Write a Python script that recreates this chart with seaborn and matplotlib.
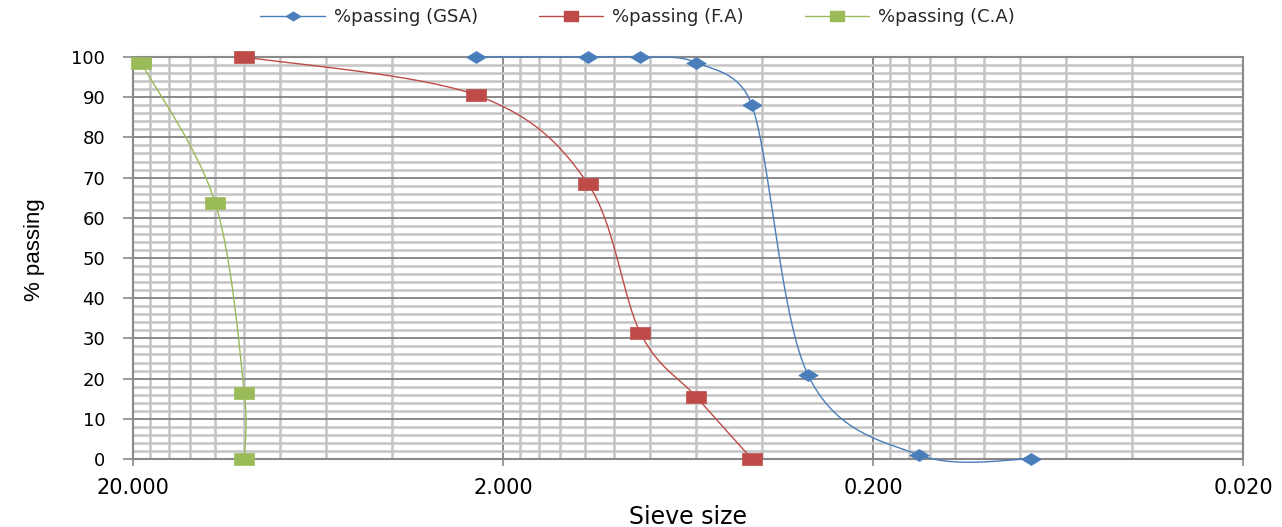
import numpy as np
import pandas as pd
import matplotlib
matplotlib.use("Agg")
import matplotlib.pyplot as plt
from matplotlib.lines import Line2D
from matplotlib.ticker import FixedLocator, FixedFormatter, MultipleLocator
import seaborn as sns

# ---------------- data ----------------
gsa_size = [2.36, 1.18, 0.85, 0.6, 0.425, 0.3, 0.15, 0.075]
gsa_pass = [100.0, 100.0, 100.0, 98.6, 88.0, 21.0, 1.0, 0.0]

fa_size = [10.0, 2.36, 1.18, 0.85, 0.6, 0.425]
fa_pass = [100.0, 90.5, 68.5, 31.3, 15.4, 0.0]

ca_size = [19.0, 12.0, 10.0, 10.0]
ca_pass = [98.5, 63.8, 16.3, 0.0]

series_names = ["%passing (GSA)", "%passing (F.A)", "%passing (C.A)"]
x_major = [20, 2, 0.2, 0.02]
x_major_labels = ["20.000", "2.000", "0.200", "0.020"]

colors = ["#4A7EBB", "#BE4B48", "#9BBB59"]

sns.set_theme(style="white")
plt.rcParams["font.family"] = ["DejaVu Sans"]

# screen scale factors (px per decade, px per % unit) used only for smoothing shape
SX, SY = 370.0, 4.02


def smooth(xs, ys, n=60):
    """Excel-like smoothed line: Bezier with Catmull-Rom tangents limited to half segment."""
    P = np.column_stack([np.log10(xs) * SX, np.asarray(ys) * SY])
    out = []
    m = len(P)
    t = np.linspace(0, 1, n)[:, None]
    for i in range(m - 1):
        p0 = P[max(i - 1, 0)]
        p1 = P[i]
        p2 = P[i + 1]
        p3 = P[min(i + 2, m - 1)]
        d02 = np.linalg.norm(p2 - p0)
        d12 = np.linalg.norm(p2 - p1)
        d13 = np.linalg.norm(p3 - p1)
        f0 = 1 / 6 if (d02 == 0 or d02 / 6 < d12 / 2) else d12 / d02 / 2
        f1 = 1 / 6 if (d13 == 0 or d13 / 6 < d12 / 2) else d12 / d13 / 2
        c1 = p1 + (p2 - p0) * f0
        c2 = p2 - (p3 - p1) * f1
        seg = ((1 - t) ** 3) * p1 + 3 * ((1 - t) ** 2) * t * c1 + 3 * (1 - t) * t ** 2 * c2 + t ** 3 * p2
        out.append(seg if i == 0 else seg[1:])
    arr = np.vstack(out)
    return 10 ** (arr[:, 0] / SX), arr[:, 1] / SY


fig = plt.figure(figsize=(12.82, 5.27), dpi=100)
ax = fig.add_axes([133 / 1282, 1 - 459 / 527, 1110 / 1282, 402 / 527])

diamond = [(-1, 0), (0, 0.62), (1, 0), (0, -0.62), (-1, 0)]
rect = [(-1, -0.66), (1, -0.66), (1, 0.66), (-1, 0.66), (-1, -0.66)]
markers = [diamond, rect, rect]

all_series = [(gsa_size, gsa_pass), (fa_size, fa_pass), (ca_size, ca_pass)]
for (xs, ys), c, mk, name in zip(all_series, colors, markers, series_names):
    sx, sy = smooth(xs, ys)
    df = pd.DataFrame({"x": sx, "y": sy})
    sns.lineplot(data=df, x="x", y="y", sort=False, estimator=None, color=c,
                 linewidth=1.0, ax=ax, zorder=3, clip_on=False)
    ax.plot(xs, ys, linestyle="none", marker=mk, markersize=14, color=c,
            markeredgecolor=c, markeredgewidth=0.5, zorder=4, clip_on=False)

ax.set_xscale("log")
ax.set_xlim(20, 0.02)
ax.set_ylim(0, 100)

# x ticks / grid
ax.xaxis.set_major_locator(FixedLocator(x_major))
ax.xaxis.set_major_formatter(FixedFormatter(x_major_labels))
minor_vals = [k * 2 * 10.0 ** e for e in (-2, -1, 0) for k in range(2, 10)]
ax.xaxis.set_minor_locator(FixedLocator(minor_vals))
ax.xaxis.set_minor_formatter(FixedFormatter([""] * len(minor_vals)))

ax.yaxis.set_major_locator(MultipleLocator(10))
ax.yaxis.set_minor_locator(MultipleLocator(2))

ax.grid(which="minor", color="#C4C4C4", linewidth=1.8, zorder=0)
ax.grid(which="major", color="#8A8A8A", linewidth=1.4, zorder=1)
ax.set_axisbelow(True)

for s in ax.spines.values():
    s.set_color("#8A8A8A")
    s.set_linewidth(1.5)
    s.set_visible(True)

ax.tick_params(axis="x", which="major", bottom=True, direction="out", length=5,
               width=1.2, color="#8A8A8A", pad=9, labelsize=15, labelcolor="black")
ax.tick_params(axis="x", which="minor", bottom=False)
ax.tick_params(axis="y", which="major", left=True, direction="out", length=7,
               width=1.2, color="#8A8A8A", pad=13, labelsize=13, labelcolor="black")
ax.tick_params(axis="y", which="minor", left=False)

ax.set_xlabel("Sieve size", fontsize=17, color="black")
ax.xaxis.set_label_coords(0.5, -0.115)
ax.set_ylabel("% passing", fontsize=16, color="black",
              family=["Liberation Sans Narrow", "Liberation Sans", "DejaVu Sans"])
ax.yaxis.set_label_coords(-0.079, 0.52)

handles = [Line2D([], [], color=c, linewidth=1.0, marker=mk, markersize=10,
                  markeredgecolor=c) for c, mk in zip(colors, markers)]
fig.legend(handles, series_names, loc="center", bbox_to_anchor=(0.4975, 0.967),
           ncol=3, frameon=False, fontsize=13, handlelength=3.55,
           handletextpad=0.5, columnspacing=3.4)

fig.savefig("out.png", dpi=100)
